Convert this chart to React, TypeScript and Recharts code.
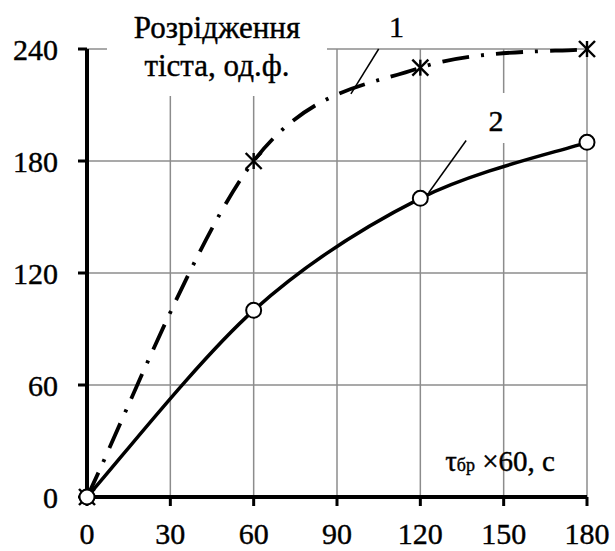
import { CartesianGrid, Line, LineChart, ReferenceLine, XAxis, YAxis } from "recharts";

const tempo = [0, 60, 120, 180];
const curva1 = [0, 180, 230, 240];
const curva2 = [0, 100, 160, 190];
const xTicks = [0, 30, 60, 90, 120, 150, 180];
const yTicks = [0, 60, 120, 180, 240];

const dados = tempo.map((t, i) => ({ t, c1: curva1[i], c2: curva2[i] }));

const fonte = "'Liberation Serif', 'Times New Roman', serif";

// suavização tipo Excel (Catmull-Rom em Bézier)
const curvaSuave = (ctx: any) => {
  let pts: number[][] = [];
  return {
    areaStart() {},
    areaEnd() {},
    lineStart() {
      pts = [];
    },
    point(x: number, y: number) {
      pts.push([+x, +y]);
    },
    lineEnd() {
      if (!pts.length) return;
      ctx.moveTo(pts[0][0], pts[0][1]);
      for (let i = 0; i < pts.length - 1; i++) {
        const p0 = pts[i - 1] || pts[i];
        const p1 = pts[i];
        const p2 = pts[i + 1];
        const p3 = pts[i + 2] || pts[i + 1];
        ctx.bezierCurveTo(
          p1[0] + (p2[0] - p0[0]) / 6,
          p1[1] + (p2[1] - p0[1]) / 6,
          p2[0] - (p3[0] - p1[0]) / 6,
          p2[1] - (p3[1] - p1[1]) / 6,
          p2[0],
          p2[1]
        );
      }
    },
  };
};

const Estrela = (props: any) => {
  const { cx, cy } = props;
  if (cx == null || cy == null) return null;
  const r = 8;
  return (
    <g stroke="#000" strokeWidth={2.4}>
      <line x1={cx - r} y1={cy - r} x2={cx + r} y2={cy + r} />
      <line x1={cx - r} y1={cy + r} x2={cx + r} y2={cy - r} />
      <line x1={cx} y1={cy - r} x2={cx} y2={cy + r} />
    </g>
  );
};

const Circulo = (props: any) => {
  const { cx, cy } = props;
  if (cx == null || cy == null) return null;
  return <circle cx={cx} cy={cy} r={7.5} fill="#fff" stroke="#000" strokeWidth={2} />;
};

export default function App() {
  const tick = { fill: "#000", fontSize: 30, fontFamily: fonte, stroke: "#000", strokeWidth: 0.4 };
  const traco = { WebkitTextStroke: "0.4px #000" } as any;
  return (
    <div
      style={{
        position: "absolute",
        left: 0,
        top: 0,
        width: 615,
        height: 551,
        background: "#fff",
        fontFamily: fonte,
      }}
    >
      <LineChart
        width={615}
        height={551}
        data={dados}
        margin={{ top: 49, right: 28, left: 0, bottom: 0 }}
      >
        <CartesianGrid stroke="#8c8c8c" strokeWidth={1.5} />
        <XAxis
          dataKey="t"
          type="number"
          domain={[0, 180]}
          ticks={xTicks}
          height={54}
          axisLine={{ stroke: "#000", strokeWidth: 4 }}
          tickLine={{ stroke: "#000", strokeWidth: 3 }}
          tickSize={9}
          tickMargin={17}
          tick={tick}
          interval={0}
        />
        <YAxis
          type="number"
          domain={[0, 240]}
          ticks={yTicks}
          width={87}
          axisLine={{ stroke: "#000", strokeWidth: 4 }}
          tickLine={{ stroke: "#000", strokeWidth: 3 }}
          tickSize={9}
          tickMargin={20}
          tick={tick}
          interval={0}
        />
        <ReferenceLine
          segment={[
            { x: 105, y: 240 },
            { x: 95, y: 216 },
          ]}
          stroke="#000"
          strokeWidth={1.5}
        />
        <ReferenceLine
          segment={[
            { x: 136.5, y: 191 },
            { x: 123, y: 163 },
          ]}
          stroke="#000"
          strokeWidth={1.5}
        />
        <Line
          type={curvaSuave as any}
          dataKey="c1"
          stroke="#000"
          strokeWidth={3.8}
          strokeDasharray="27 12 3 12"
          dot={<Estrela />}
          isAnimationActive={false}
        />
        <Line
          type={curvaSuave as any}
          dataKey="c2"
          stroke="#000"
          strokeWidth={3.5}
          dot={<Circulo />}
          isAnimationActive={false}
        />
      </LineChart>

      <div
        style={{
          position: "absolute",
          left: 107,
          top: 9,
          width: 220,
          height: 87,
          background: "#fff",
          textAlign: "center",
          fontSize: 31,
          lineHeight: "38px",
          ...traco,
        }}
      >
        Розрідження
        <br />
        тіста, од.ф.
      </div>
      <div style={{ position: "absolute", left: 389, top: 10, fontSize: 30, lineHeight: "34px", ...traco }}>1</div>
      <div
        style={{
          position: "absolute",
          left: 480,
          top: 93,
          width: 32,
          height: 50,
          background: "#fff",
          fontSize: 30,
          lineHeight: "34px",
          textAlign: "center",
          paddingTop: 11,
          boxSizing: "border-box",
          ...traco,
        }}
      >
        2
      </div>
      <div
        style={{
          position: "absolute",
          right: 60,
          top: 444,
          fontSize: 29,
          lineHeight: "34px",
          whiteSpace: "nowrap",
          textAlign: "right",
          ...traco,
        }}
      >
        τ<span style={{ fontSize: 18 }}>бр</span> ×60, с
      </div>
    </div>
  );
}
